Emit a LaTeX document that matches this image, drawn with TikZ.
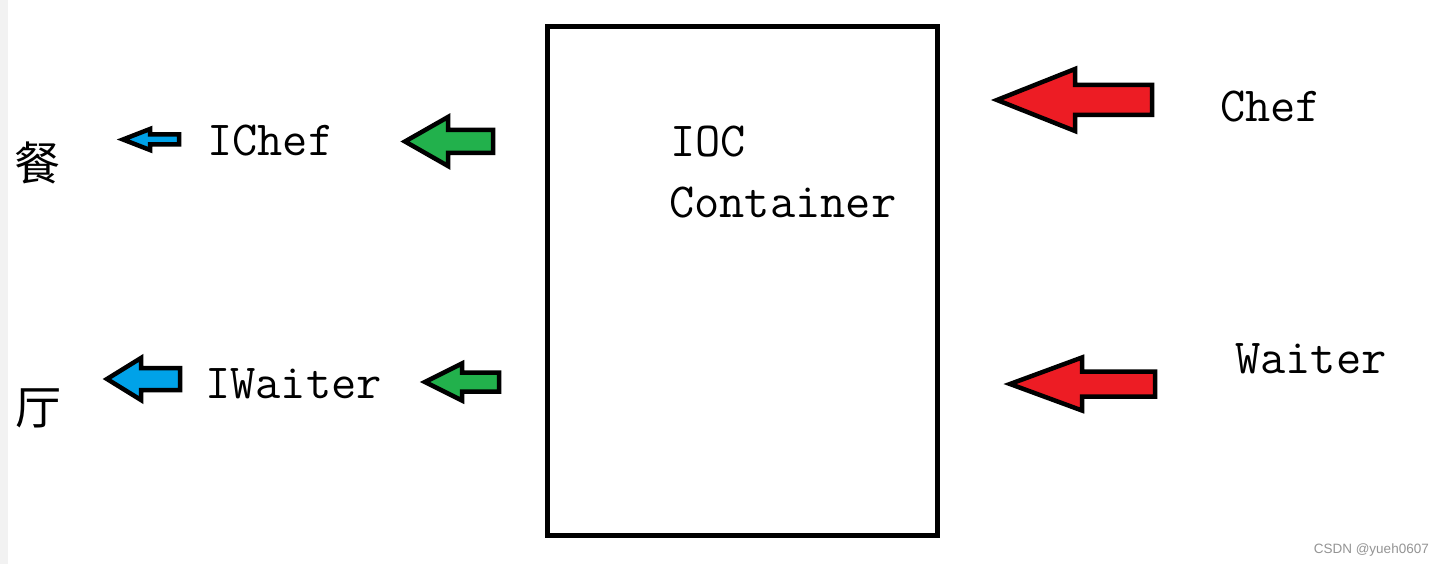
\documentclass[tikz,border=0pt]{standalone}
\usepackage{fontspec}
\newfontfamily\cjkfont{Noto Sans CJK SC}
\newfontfamily\wmfont{Liberation Sans}
\definecolor{pblue}{RGB}{0,162,232}
\definecolor{pgreen}{RGB}{34,177,76}
\definecolor{pred}{RGB}{237,28,36}
\newcommand\blockarrow[7]{%
  \draw[blockarrow, fill=#1] (#2,#3) -- (#4,#3-#5) -- (#4,#3-#6) -- (#7,#3-#6)
    -- (#7,#3+#6) -- (#4,#3+#6) -- (#4,#3+#5) -- cycle;}
\begin{document}
\begin{tikzpicture}[x=1pt,y=-1pt,
  blockarrow/.style={line width=4.5pt, line join=miter, miter limit=10},
  label/.style={font=\ttfamily\fontsize{49}{52}\selectfont, inner sep=0pt, anchor=base west},
  cjk/.style={font=\cjkfont\fontsize{46}{48}\selectfont, inner sep=0pt},
  wm/.style={font=\wmfont\fontsize{13.5}{15}\selectfont, text=black!42, inner sep=0pt, anchor=base east}]
\useasboundingbox (0,0) rectangle (1445,564);
\fill[white] (0,0) rectangle (1445,564);
\fill[black!5] (0,0) rectangle (8,564);
% container
\draw[line width=5pt] (547.5,26.5) rectangle (937.5,535.5);
% arrows
\blockarrow{pblue}{123}{139.5}{150}{10.5}{5}{179}
\blockarrow{pblue}{107}{379}{141}{21}{11}{180}
\blockarrow{pgreen}{405}{141.5}{448}{24.5}{11.5}{493}
\blockarrow{pgreen}{425}{382}{462}{18.5}{9.5}{499}
\blockarrow{pred}{997}{100}{1075}{31}{15}{1152}
\blockarrow{pred}{1010}{384}{1082}{26.5}{12.5}{1155}
% texts
\node[cjk] (can) at (37,163) {餐};
\node[cjk] (ting) at (38,408) {厅};
\node[label] (ichef) at (207,156) {IChef};
\node[label] (iwaiter) at (205,398) {IWaiter};
\node[label] (ioc) at (670,157) {IOC};
\node[label] (container) at (669,218) {Container};
\node[label] (chef) at (1220,122) {Chef};
\node[label] (waiter) at (1235,373) {Waiter};
\node[wm] (mark) at (1429,553) {CSDN @yueh0607};
\end{tikzpicture}
\end{document}
